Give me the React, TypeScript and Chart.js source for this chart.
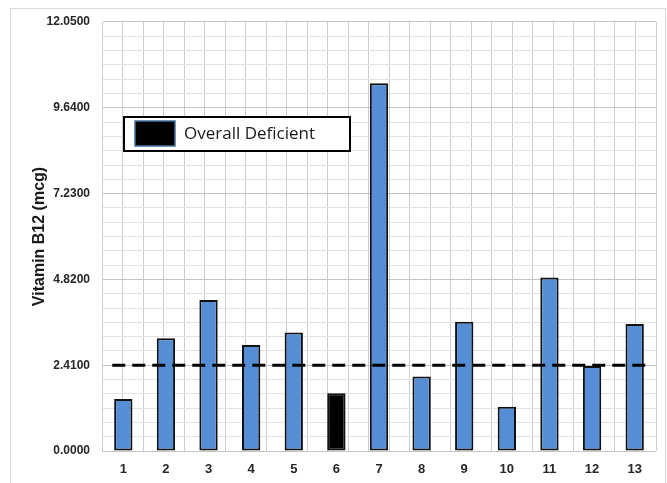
import React, { useEffect, useRef } from "react";
import { Chart, registerables } from "chart.js";

Chart.register(...registerables);

// Sample numbers along the x axis
const categories = ["1", "2", "3", "4", "5", "6", "7", "8", "9", "10", "11", "12", "13"];
// Measured vitamin B12 per sample (mcg)
const vitaminB12 = [1.46, 3.17, 4.24, 2.98, 3.33, 1.62, 10.33, 2.09, 3.63, 1.24, 4.87, 2.39, 3.57];
// Sample flagged as overall deficient
const deficientCategories = ["6"];
// Deficiency threshold (dashed line)
const threshold = 2.41;
// Y axis: labelled every majorStep, light grid every majorStep / minorPerMajor
const yMax = 12.05;
const majorStep = 2.41;
const minorPerMajor = 6;
const legendLabel = "Overall Deficient";

const BLUE = "#558ED5";
const FONT = "'Liberation Sans', Arial, sans-serif";

const legendBox = {
  id: "legendBox",
  afterDatasetsDraw(chart: any) {
    const { ctx, chartArea } = chart;
    const x = chartArea.left + 22;
    const y = chartArea.top + 95;
    const w = 226;
    const h = 34;
    ctx.save();
    ctx.fillStyle = "#ffffff";
    ctx.fillRect(x, y, w, h);
    ctx.lineWidth = 2;
    ctx.strokeStyle = "#000000";
    ctx.strokeRect(x, y, w, h);
    // swatch
    ctx.fillStyle = "#000000";
    ctx.fillRect(x + 11, y + 4, 40, 25);
    ctx.lineWidth = 1.5;
    ctx.strokeStyle = "#41719C";
    ctx.strokeRect(x + 11, y + 4, 40, 25);
    ctx.fillStyle = "#1a1a1a";
    ctx.font = "17px 'Open Sans', sans-serif";
    ctx.textBaseline = "middle";
    ctx.textAlign = "left";
    ctx.fillText(legendLabel, x + 60, y + h / 2 + 0.5);
    ctx.restore();
  },
};

export default function App() {
  const canvasRef = useRef<HTMLCanvasElement | null>(null);

  useEffect(() => {
    const canvas = canvasRef.current;
    if (!canvas) return;

    const barColors = categories.map((c) => (deficientCategories.includes(c) ? "#000000" : BLUE));
    const n = categories.length;

    const chart = new Chart(canvas, {
      type: "bar",
      data: {
        labels: categories,
        datasets: [
          {
            type: "line",
            label: "Threshold",
            xAxisID: "x2",
            data: [
              { x: -0.5, y: threshold },
              { x: n - 0.5, y: threshold },
            ],
            borderColor: "#000000",
            borderWidth: 3,
            borderDash: [13, 7],
            pointRadius: 0,
            fill: false,
            order: 0,
          } as any,
          {
            type: "bar",
            label: "Vitamin B12",
            data: vitaminB12,
            backgroundColor: barColors,
            borderColor: "#111111",
            borderWidth: 2,
            borderSkipped: false,
            grouped: false,
            barPercentage: 0.43,
            categoryPercentage: 1,
            order: 1,
          },
        ],
      },
      options: {
        responsive: false,
        animation: false,
        layout: { padding: { left: 10, top: 13, right: 9, bottom: 0 } },
        plugins: {
          legend: { display: false },
          tooltip: { enabled: false },
        },
        scales: {
          x: {
            type: "category",
            grid: { display: false, drawTicks: false },
            border: { display: false },
            ticks: {
              padding: 11,
              color: "#262626",
              font: { family: FONT, size: 13, weight: "bold" },
            },
            afterFit: (scale: any) => {
              scale.height = 32;
            },
          },
          x2: {
            type: "linear",
            position: "bottom",
            min: -0.5,
            max: n - 0.5,
            ticks: { display: false },
            grid: { color: "#cccccc", lineWidth: 1, drawTicks: false },
            border: { display: false },
            afterBuildTicks: (scale: any) => {
              const t = [];
              for (let i = 0; i <= n * 2; i++) t.push({ value: -0.5 + i * 0.5 });
              scale.ticks = t;
            },
            afterFit: (scale: any) => {
              scale.height = 0;
            },
          },
          y: {
            type: "linear",
            min: 0,
            max: yMax,
            afterBuildTicks: (scale: any) => {
              const t = [];
              const count = Math.round(yMax / (majorStep / minorPerMajor));
              for (let i = 0; i <= count; i++) t.push({ value: (i * majorStep) / minorPerMajor });
              scale.ticks = t;
            },
            ticks: {
              autoSkip: false,
              padding: 0,
              color: "#262626",
              font: { family: FONT, size: 12, weight: "bold" },
              callback: (value: any, index: number) =>
                index % minorPerMajor === 0 ? Number(value).toFixed(4) : "",
            },
            grid: {
              drawTicks: true,
              tickLength: 12,
              tickColor: "rgba(0,0,0,0)",
              color: (ctx: any) => (ctx.index % minorPerMajor === 0 ? "#c4c4c4" : "#e3e3e3"),
            },
            border: { display: true, color: "#cccccc" },
            title: {
              display: true,
              text: "Vitamin B12 (mcg)",
              color: "#1a1a1a",
              padding: { top: 9, bottom: 0 },
              font: { family: FONT, size: 16, weight: "bold" },
            },
            afterFit: (scale: any) => {
              scale.width = 81;
            },
          },
        },
      },
      plugins: [legendBox],
    });

    return () => chart.destroy();
  }, []);

  return (
    <div
      style={{
        position: "fixed",
        left: 0,
        top: 0,
        width: 667,
        height: 483,
        overflow: "hidden",
        background: "#ffffff",
      }}
    >
      <div
        style={{
          position: "absolute",
          left: 10,
          top: 8,
          width: 654,
          height: 490,
          border: "1px solid #d9d9d9",
        }}
      >
        <canvas ref={canvasRef} width={654} height={474} style={{ display: "block" }} />
      </div>
    </div>
  );
}
